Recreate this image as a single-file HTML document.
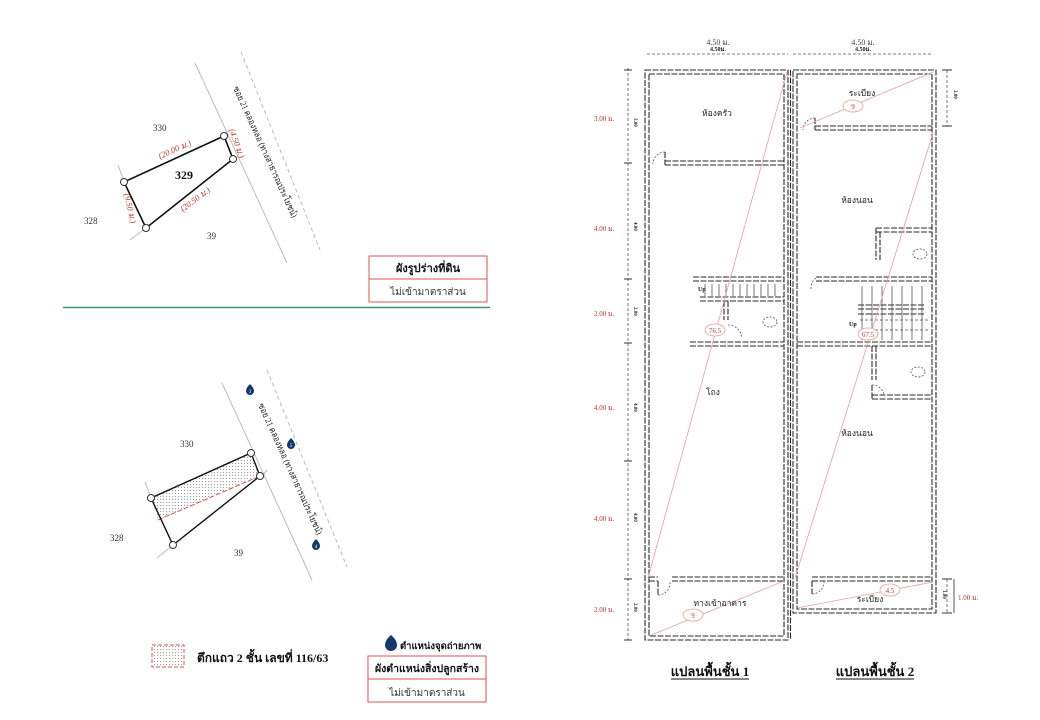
<!DOCTYPE html>
<html><head><meta charset="utf-8"><style>
html,body{margin:0;padding:0;background:#fff;}
svg{display:block;}
text{font-family:"Liberation Serif","Noto Serif CJK SC",serif;}
.th{font-family:"Liberation Serif","Noto Sans CJK SC","WenQuanYi Zen Hei",serif;}
</style></head><body>
<svg width="1040" height="720" viewBox="0 0 1040 720" xmlns="http://www.w3.org/2000/svg">
<defs>
<pattern id="dots" width="3" height="3" patternUnits="userSpaceOnUse"><circle cx="1.5" cy="1.5" r="0.6" fill="#999"/></pattern>
</defs>

<!-- ===== TOP LAND DIAGRAM ===== -->
<line x1="195" y1="63" x2="287" y2="263" stroke="#bbb" stroke-width="1"/>
<line x1="241" y1="52" x2="320" y2="250" stroke="#bbb" stroke-width="1" stroke-dasharray="4 3"/>
<line x1="118" y1="165" x2="124" y2="181" stroke="#bbb"/>
<line x1="130" y1="240" x2="146" y2="228" stroke="#bbb"/>
<polygon points="124,182 224,136 233,159 146,228" fill="none" stroke="#111" stroke-width="1.6"/>
<g fill="#fff" stroke="#333" stroke-width="1">
<circle cx="124" cy="182" r="3.5"/><circle cx="224" cy="136" r="3.5"/><circle cx="233" cy="159" r="3.5"/><circle cx="146" cy="228" r="3.5"/>
</g>
<text x="153" y="131" font-size="9" fill="#333">330</text>
<text x="175" y="179" font-size="12" font-weight="bold" fill="#111">329</text>
<text x="84" y="224" font-size="9" fill="#333">328</text>
<text x="207" y="239" font-size="9" fill="#333">39</text>
<g font-size="8.5" fill="#c0392b" font-style="italic">
<text transform="translate(160,159) rotate(-24)">(20.00 ม.)</text>
<text transform="translate(183,212) rotate(-37)">(20.50 ม.)</text>
<text transform="translate(124,194) rotate(77)">(9.50 ม.)</text>
<text transform="translate(229,130) rotate(70)">(4.50 ม.)</text>
</g>
<text class="th" transform="translate(233,88) rotate(65.6)" font-size="9" fill="#222" textLength="143" lengthAdjust="spacingAndGlyphs">ซอย 21 คลองหลอ (ทางสาธารณประโยชน์)</text>

<rect x="369" y="256" width="118" height="46" fill="#fff" stroke="#d9534f" stroke-width="1"/>
<line x1="369" y1="279" x2="487" y2="279" stroke="#d9534f"/>
<text class="th" x="428" y="272" font-size="11" font-weight="bold" text-anchor="middle" fill="#111">ผังรูปร่างที่ดิน</text>
<text class="th" x="428" y="295" font-size="10" text-anchor="middle" fill="#333">ไม่เข้ามาตราส่วน</text>
<line x1="63" y1="307.5" x2="490" y2="307.5" stroke="#2e9e6e" stroke-width="1.6"/>

<!-- ===== BOTTOM LAND DIAGRAM ===== -->
<line x1="222" y1="383" x2="312" y2="580" stroke="#bbb"/>
<line x1="267" y1="370" x2="347" y2="567" stroke="#bbb" stroke-dasharray="4 3"/>
<line x1="145" y1="482" x2="151" y2="498" stroke="#bbb"/>
<line x1="157" y1="558" x2="173" y2="545" stroke="#bbb"/>
<line x1="267" y1="470" x2="262" y2="476" stroke="#bbb"/>
<polygon points="151,498 251,453 260,476 158,520" fill="url(#dots)" stroke="none"/>
<polyline points="158,520 260,476" fill="none" stroke="#d9534f" stroke-dasharray="5 2" stroke-width="1"/>
<line x1="151" y1="498" x2="251" y2="453" stroke="#c0392b" stroke-width="1"/>
<polygon points="151,498 251,453 260,476 173,545" fill="none" stroke="#111" stroke-width="1.4"/>
<g fill="#fff" stroke="#333" stroke-width="1">
<circle cx="151" cy="498" r="3.5"/><circle cx="251" cy="453" r="3.5"/><circle cx="260" cy="476" r="3.5"/><circle cx="173" cy="545" r="3.5"/>
</g>
<text x="180" y="447" font-size="9" fill="#333">330</text>
<text x="110" y="541" font-size="9" fill="#333">328</text>
<text x="234" y="556" font-size="9" fill="#333">39</text>
<text class="th" transform="translate(258,405) rotate(65.6)" font-size="9" fill="#222" textLength="143" lengthAdjust="spacingAndGlyphs">ซอย 21 คลองหลอ (ทางสาธารณประโยชน์)</text>
<g fill="#14386b">
<path d="M250,384 q4,4 4,7 a4,4 0 0 1 -8,0 q0,-3 4,-7z"/>
<path d="M291,438 q4,4 4,7 a4,4 0 0 1 -8,0 q0,-3 4,-7z"/>
<path d="M316,539 q4,4 4,7 a4,4 0 0 1 -8,0 q0,-3 4,-7z"/>
</g>
<g fill="#fff" font-size="5" font-family="Liberation Sans, sans-serif" text-anchor="middle">
<text x="250" y="393">3</text><text x="291" y="447">5</text><text x="316" y="548">4</text>
</g>

<rect x="152" y="645" width="32" height="22" fill="url(#dots)" stroke="#d9534f" stroke-dasharray="4 2"/>
<text class="th" x="197" y="662" font-size="12" font-weight="bold" fill="#111">ตึกแถว 2 ชั้น เลขที่ 116/63</text>
<path d="M391,635 q6,5 6,10 a6,6 0 0 1 -12,0 q0,-5 6,-10z" fill="#14386b"/>
<text class="th" x="400" y="649" font-size="9.5" font-weight="bold" fill="#111">ตำแหน่งจุดถ่ายภาพ</text>
<rect x="368" y="656" width="118" height="46" fill="#fff" stroke="#d9534f"/>
<line x1="368" y1="679" x2="486" y2="679" stroke="#d9534f"/>
<text class="th" x="427" y="672" font-size="10.5" font-weight="bold" text-anchor="middle" fill="#111">ผังตำแหน่งสิ่งปลูกสร้าง</text>
<text class="th" x="427" y="696" font-size="10" text-anchor="middle" fill="#333">ไม่เข้ามาตราส่วน</text>

<!-- ===== FLOOR PLANS ===== -->
<text x="718" y="45" font-size="8" fill="#444" text-anchor="middle" font-family="Liberation Sans,sans-serif">4.50 ม.</text>
<text x="718" y="51" font-size="6" fill="#222" text-anchor="middle" font-weight="bold">4.50ม.</text>
<text x="863" y="45" font-size="8" fill="#444" text-anchor="middle" font-family="Liberation Sans,sans-serif">4.50 ม.</text>
<text x="863" y="51" font-size="6" fill="#222" text-anchor="middle" font-weight="bold">4.50ม.</text>
<g stroke="#555" stroke-dasharray="3 2" stroke-width="0.8">
<line x1="647" y1="54" x2="788" y2="54"/><line x1="793" y1="54" x2="933" y2="54"/>
<line x1="628" y1="68" x2="628" y2="640"/>
<line x1="947" y1="70" x2="947" y2="126"/>
<line x1="947" y1="579" x2="947" y2="613"/>
</g>
<g stroke="#333" stroke-width="1">
<line x1="624" y1="70" x2="632" y2="70"/><line x1="624" y1="163" x2="632" y2="163"/><line x1="624" y1="279" x2="632" y2="279"/>
<line x1="624" y1="343" x2="632" y2="343"/><line x1="624" y1="461" x2="632" y2="461"/><line x1="624" y1="579" x2="632" y2="579"/><line x1="624" y1="640" x2="632" y2="640"/>
<line x1="942" y1="70" x2="952" y2="70"/><line x1="942" y1="126" x2="952" y2="126"/>
<line x1="942" y1="579" x2="952" y2="579"/><line x1="942" y1="613" x2="952" y2="613"/>
<line x1="954" y1="579" x2="954" y2="613" stroke="#555"/>
</g>
<g font-size="7" fill="#b03a2e" font-family="Liberation Sans,sans-serif">
<text x="594" y="121">3.00 ม.</text><text x="594" y="231">4.00 ม.</text><text x="594" y="316">2.00 ม.</text>
<text x="594" y="410">4.00 ม.</text><text x="594" y="521">4.00 ม.</text><text x="594" y="612">2.00 ม.</text>
<text x="958" y="600">1.00 ม.</text>
</g>
<g font-size="5" fill="#222" font-weight="bold">
<text transform="translate(634,118) rotate(90)">3.00</text><text transform="translate(634,222) rotate(90)">4.00</text>
<text transform="translate(634,307) rotate(90)">2.00</text><text transform="translate(634,403) rotate(90)">4.00</text>
<text transform="translate(634,513) rotate(90)">4.00</text><text transform="translate(634,603) rotate(90)">2.00</text>
<text transform="translate(954,90) rotate(90)">2.00</text><text transform="translate(943,590) rotate(90)">1.00</text>
</g>

<g fill="none" stroke="#2a2a2a" stroke-width="1.1" stroke-dasharray="6 1.5">
<rect x="645" y="70" width="143" height="570"/>
<rect x="649" y="74" width="135" height="562"/>
<rect x="793" y="70" width="143" height="543"/>
<rect x="797" y="74" width="135" height="535"/>
<line x1="790.5" y1="70" x2="790.5" y2="640"/>
<path d="M665,161 H784 M665,165 H784 M665,152 V165"/>
<path d="M693,277 H784 M693,281 H784"/>
<path d="M690,342 H784 M690,346 H784"/>
<path d="M700,297 H784 M700,301 H784"/>
<path d="M724,301 V320 M728,301 V320"/>
<path d="M672,577 H784 M672,581 H784"/>
<path d="M649,577 H658 M649,581 H658 M658,581 V595"/>
<path d="M815,126 H932 M815,130 H932 M815,118 V130"/>
<path d="M816,277 H932 M816,281 H932"/>
<path d="M876,228 H932 M876,232 H932 M876,228 V260 M880,232 V260"/>
<path d="M797,342 H932 M797,346 H932"/>
<path d="M872,346 V380 M876,346 V380 M872,395 H932 M872,399 H932 M872,385 V399"/>
<path d="M858,305 H925 M858,309 H925 M858,314 H925"/>
<path d="M812,577 H932 M812,581 H932 M812,581 V594"/>
</g>
<g stroke="#555" stroke-width="0.8">
<path d="M705,284 V296 M712,284 V296 M719,284 V296 M726,284 V296 M733,284 V296 M740,284 V296 M747,284 V296 M754,284 V296 M761,284 V296 M768,284 V296 M775,284 V296"/>
<path d="M862,286 V340 M872,286 V340 M882,286 V340 M892,286 V340 M902,286 V340 M912,286 V340 M922,286 V340"/>
<path d="M860,320 H930 M860,330 H930" stroke-dasharray="3 2"/>
</g>
<text x="698" y="291" font-size="6" font-weight="bold" fill="#111" font-family="Liberation Sans,sans-serif">Up</text>
<text x="849" y="326" font-size="6" font-weight="bold" fill="#111" font-family="Liberation Sans,sans-serif">Up</text>
<g fill="none" stroke="#555" stroke-width="0.8" stroke-dasharray="2 1.5">
<ellipse cx="770" cy="322" rx="7" ry="5"/><ellipse cx="920" cy="254" rx="7" ry="5"/><ellipse cx="918" cy="372" rx="7" ry="5"/>
<path d="M665,152 A12,12 0 0 0 653,164"/><path d="M815,118 A12,12 0 0 0 803,130"/>
<path d="M728,325 A14,14 0 0 1 742,338"/><path d="M872,385 A12,12 0 0 1 884,395"/>
<path d="M658,595 A12,12 0 0 0 670,582"/><path d="M812,594 A12,12 0 0 0 824,582"/>
<path d="M811,289 A12,12 0 0 1 816,278"/>
</g>

<g stroke="#e8a09a" stroke-width="0.8" fill="none">
<line x1="648" y1="578" x2="787" y2="72"/>
<line x1="649" y1="636" x2="784" y2="581"/>
<line x1="800" y1="128" x2="933" y2="72"/>
<line x1="795" y1="578" x2="933" y2="133"/>
<line x1="797" y1="608" x2="933" y2="582"/>
</g>
<g fill="#fff" stroke="#e8a09a" stroke-width="0.8">
<ellipse cx="715" cy="330" rx="10" ry="6"/><ellipse cx="693" cy="615" rx="10" ry="6"/>
<ellipse cx="853" cy="106" rx="10" ry="6"/><ellipse cx="868" cy="334" rx="10" ry="6"/>
<ellipse cx="890" cy="590" rx="10" ry="6"/>
</g>
<g font-size="7" fill="#c0392b" text-anchor="middle" font-family="Liberation Sans,sans-serif">
<text x="715" y="333">76.5</text><text x="693" y="618">9</text><text x="853" y="109">9</text>
<text x="868" y="337">67.5</text><text x="890" y="593">4.5</text>
</g>
<g font-size="8.5" fill="#222" text-anchor="middle">
<text class="th" x="717" y="116">ห้องครัว</text>
<text class="th" x="862" y="96">ระเบียง</text>
<text class="th" x="857" y="203">ห้องนอน</text>
<text class="th" x="713" y="395">โถง</text>
<text class="th" x="857" y="436">ห้องนอน</text>
<text class="th" x="720" y="606">ทางเข้าอาคาร</text>
<text class="th" x="870" y="602">ระเบียง</text>
</g>
<text class="th" x="710" y="676" font-size="13" font-weight="bold" text-anchor="middle" fill="#111">แปลนพื้นชั้น 1</text>
<line x1="671" y1="679" x2="749" y2="679" stroke="#111"/>
<text class="th" x="875" y="676" font-size="13" font-weight="bold" text-anchor="middle" fill="#111">แปลนพื้นชั้น 2</text>
<line x1="836" y1="679" x2="914" y2="679" stroke="#111"/>
</svg>
</body></html>
